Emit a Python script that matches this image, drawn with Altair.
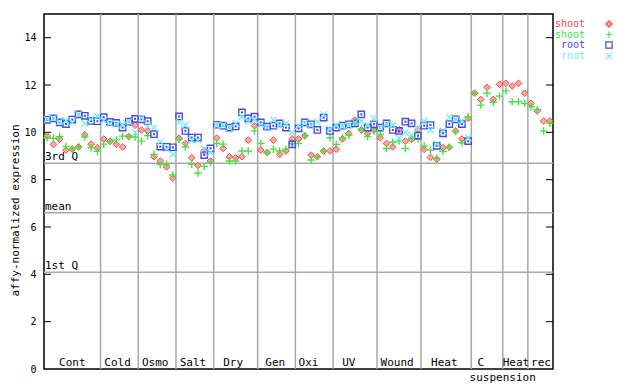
import altair as alt
import pandas as pd

# ---------------- data ----------------
group_names = ["Cont", "Cold", "Osmo", "Salt", "Dry", "Gen", "Oxi", "UV",
               "Wound", "Heat", "C", "Heat", "rec"]
group_sizes = [9, 6, 6, 6, 7, 6, 6, 7, 7, 8, 5, 4, 4]
label_pos = [4.0, 11.2, 17.2, 23.2, 29.6, 36.3, 41.6, 48.0, 55.7, 63.2, 69.0, 74.6, 78.6]
sub_label = "suspension"
sub_label_pos = 72.5

shoot_rep1 = [9.85, 9.49, 9.71, 9.25, 9.29, 9.38, 9.90, 9.50, 9.35,
              9.72, 9.62, 9.50, 9.38, 9.83, 10.30,
              10.10, 10.05, 8.97, 8.79, 8.54, 8.06,
              9.75, 9.53, 8.92, 8.60, 9.22, 8.79,
              9.76, 9.32, 8.97, 8.92, 8.97, 9.67, 10.28,
              9.25, 9.15, 9.67, 9.07, 9.21, 9.72,
              9.72, 9.86, 9.04, 8.97, 9.21, 9.21,
              9.29, 9.72, 9.95, 10.52, 10.10, 9.95, 10.10,
              9.77, 9.53, 9.39, 10.10, 9.63, 9.70, 10.10,
              9.28, 8.94, 8.86, 9.35, 9.37, 10.06, 9.72, 10.59,
              11.65, 11.39, 11.90, 11.39, 12.03,
              12.07, 11.96, 12.07, 11.65,
              11.22, 10.90, 10.48, 10.48]

shoot_rep2 = [9.77, 9.75, 9.82, 9.40, 9.29, 9.40, 9.80, 9.35, 9.20,
              9.50, 9.62, 9.68, 9.84, 9.82, 9.80,
              9.63, 9.86, 9.07, 8.64, 8.66, 8.20,
              9.70, 9.38, 8.65, 8.28, 8.56, 8.73,
              9.53, 9.50, 8.79, 8.79, 9.21, 9.21, 10.06,
              9.53, 9.15, 9.29, 9.21, 9.29, 9.53,
              9.53, 9.86, 8.83, 8.97, 9.21, 9.77,
              9.49, 9.77, 9.88, 10.38, 10.14, 9.82, 10.06,
              9.91, 9.32, 9.58, 9.63, 9.32, 9.75, 9.72,
              9.42, 9.25, 8.90, 9.20, 9.37, 10.03, 9.56, 10.66,
              11.65, 11.15, 11.65, 11.27, 11.53,
              11.75, 11.29, 11.29, 11.22,
              11.08, 10.97, 10.06, 10.38]

root_rep1 = [10.53, 10.59, 10.42, 10.35, 10.54, 10.76, 10.70, 10.48, 10.47,
             10.64, 10.44, 10.40, 10.20, 10.45, 10.57,
             10.55, 10.47, 9.92, 9.40, 9.39, 9.37,
             10.67, 10.06, 9.78, 9.78, 9.04, 9.32,
             10.32, 10.28, 10.20, 10.25, 10.84, 10.59, 10.66,
             10.42, 10.24, 10.28, 10.38, 10.20, 9.49,
             10.17, 10.42, 10.34, 10.10, 10.62, 10.06,
             10.20, 10.28, 10.34, 10.38, 10.76, 10.20, 10.34,
             10.20, 10.38, 10.10, 10.06, 10.45, 10.38, 9.86,
             10.28, 10.31, 9.43, 9.96, 10.35, 10.55, 10.35, 9.63]

root_rep2 = [10.55, 10.60, 10.45, 10.50, 10.42, 10.76, 10.38, 10.55, 10.68,
             10.50, 10.38, 10.35, 10.30, 10.45, 10.00,
             10.60, 10.26, 10.20, 9.60, 9.30, 9.08,
             10.43, 10.31, 9.67, 9.67, 9.29, 9.15,
             10.30, 10.30, 10.20, 10.38, 10.66, 10.48, 10.52,
             10.35, 10.20, 10.52, 10.30, 10.38, 10.00,
             10.28, 10.40, 10.30, 10.45, 10.76, 10.14,
             10.30, 10.25, 10.30, 10.42, 10.48, 10.30, 10.59,
             10.20, 10.35, 10.31, 9.75, 10.00, 9.88, 10.20,
             10.48, 10.10, 9.50, 10.06, 10.63, 10.55, 10.48, 9.77]

quart_names = ["3rd Q", "mean", "1st Q"]
quart_values = [8.69, 6.60, 4.09]
y_ticks = [0, 2, 4, 6, 8, 10, 12, 14]

series_names = ["shoot", "shoot", "root", "root"]
series_colors = ["#ff4444", "#44e444", "#4848e8", "#66f0f0"]

# ---------------- derived tables ----------------
n_samples = sum(group_sizes)
seps = []
acc = 0
for s in group_sizes[:-1]:
    acc += s
    seps.append(acc - 0.5)

def series_df(vals):
    return pd.DataFrame({"i": list(range(len(vals))), "v": vals})

W, H = 509, 355
FONT = "DejaVu Sans Mono"

xs = alt.Scale(domain=[-0.5, n_samples - 0.5], nice=False, zero=False)
ys = alt.Scale(domain=[0, 15], nice=False, zero=False)

yaxis = alt.Axis(values=y_ticks, ticks=False, domain=False, grid=False,
                 labelFont=FONT, labelFontSize=10, labelColor="black", labelPadding=8,
                 title="affy-normalized expression", titleFont=FONT, titleFontSize=11,
                 titleFontWeight="normal", titleColor="black", titleX=-24, titleY=196)

X = lambda f: alt.X(f, type="quantitative", scale=xs, axis=None)
Yax = lambda f: alt.Y(f, type="quantitative", scale=ys, axis=yaxis)

ticks_df = pd.DataFrame({"t": y_ticks[1:]})
tick_left = alt.Chart(ticks_df).mark_rule(color="black", strokeWidth=1).encode(
    y=Yax("t"), x=alt.value(0), x2=alt.value(7))
tick_right = alt.Chart(ticks_df).mark_rule(color="black", strokeWidth=1).encode(
    y=Yax("t"), x=alt.value(W - 7), x2=alt.value(W))

sep_rules = alt.Chart(pd.DataFrame({"s": seps})).mark_rule(
    color="#a8a8a8", strokeWidth=1.5).encode(x=X("s"))

q_df = pd.DataFrame({"name": quart_names, "q": quart_values})
q_rules = alt.Chart(q_df).mark_rule(color="#a8a8a8", strokeWidth=1.5).encode(y=Yax("q"))
q_text = alt.Chart(q_df).mark_text(align="left", baseline="alphabetic", dy=-3,
                                   font=FONT, fontSize=11, color="black").encode(
    y=Yax("q"), x=alt.value(1), text="name:N")

red = alt.Chart(series_df(shoot_rep1)).mark_point(
    shape="diamond", size=44, filled=False, stroke=series_colors[0], strokeWidth=1,
    fill="#ffa8a8", fillOpacity=1, opacity=1).encode(x=X("i"), y=Yax("v"))
green = alt.Chart(series_df(shoot_rep2)).mark_point(
    shape="M-1,0L1,0M0,-1L0,1", size=56, filled=False, stroke=series_colors[1],
    strokeWidth=1.4, opacity=1).encode(x=X("i"), y=Yax("v"))
blue = alt.Chart(series_df(root_rep1)).mark_point(
    shape="square", size=40, filled=False, stroke=series_colors[2], strokeWidth=1.4,
    opacity=1).encode(x=X("i"), y=Yax("v"))
blue_dot = alt.Chart(series_df(root_rep1)).mark_point(
    shape="square", size=4, filled=True, color=series_colors[2], opacity=1).encode(
    x=X("i"), y=Yax("v"))
cyan = alt.Chart(series_df(root_rep2)).mark_point(
    shape="M-1,-1L1,1M-1,1L1,-1", size=42, filled=False, stroke=series_colors[3],
    strokeWidth=1.2, opacity=1).encode(x=X("i"), y=Yax("v"))

g_df = pd.DataFrame({"name": group_names, "p": label_pos})
g_text = alt.Chart(g_df).mark_text(font=FONT, fontSize=11, color="black",
                                   baseline="middle", align="center").encode(
    x=X("p"), y=alt.value(H - 6), text="name:N")
sub_text = alt.Chart(pd.DataFrame({"name": [sub_label], "p": [sub_label_pos]})).mark_text(
    font=FONT, fontSize=11, color="black", baseline="middle", align="center").encode(
    x=X("p"), y=alt.value(H + 9), text="name:N")

# legend (manual, labels left of symbols)
leg_layers = []
leg_y = [10, 20.5, 31, 42]
leg_shapes = ["diamond", "M-1,0L1,0M0,-1L0,1", "square", "M-1,-1L1,1M-1,1L1,-1"]
one = pd.DataFrame({"a": [0]})
for k in range(4):
    leg_layers.append(alt.Chart(one).mark_text(
        text=series_names[k], font=FONT, fontSize=10, color=series_colors[k],
        align="right", baseline="middle").encode(x=alt.value(W + 32), y=alt.value(leg_y[k])))
    kw = dict(shape=leg_shapes[k], filled=False, stroke=series_colors[k], opacity=1,
              strokeWidth=1.2, size=40)
    if k == 0:
        kw["fill"] = "#ffa8a8"
        kw["fillOpacity"] = 1
    leg_layers.append(alt.Chart(one).mark_point(**kw).encode(
        x=alt.value(W + 56), y=alt.value(leg_y[k])))

chart = alt.layer(
    sep_rules, q_rules, q_text, tick_left, tick_right,
    red, green, blue, blue_dot, cyan, g_text, sub_text, *leg_layers
).properties(
    width=W, height=H,
    autosize=alt.AutoSizeParams(type="none"),
    padding={"left": 36, "top": 6, "right": 79, "bottom": 14},
    background="white"
).configure_view(stroke="black", strokeWidth=1.5)

chart.save("out.html", embed_options={"renderer": "svg", "actions": False})
